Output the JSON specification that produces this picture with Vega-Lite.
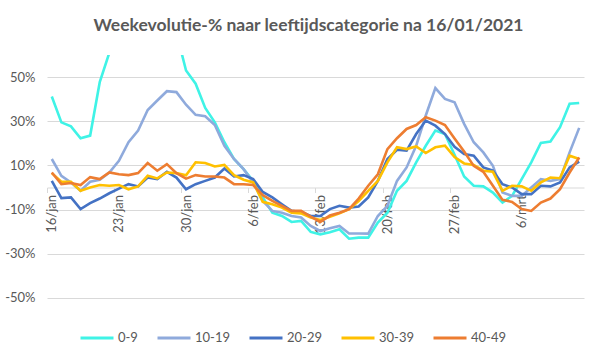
{
  "$schema": "https://vega.github.io/schema/vega-lite/v6.json",
  "width": 537,
  "height": 265,
  "autosize": {"type": "none"},
  "padding": {"left": 47, "top": 55, "right": 15, "bottom": 39},
  "background": "white",
  "title": {
    "text": "Weekevolutie-% naar leeftijdscategorie  na 16/01/2021",
    "fontSize": 17.5,
    "fontWeight": "bold",
    "color": "#595959",
    "font": "Lato",
    "frame": "group",
    "anchor": "middle",
    "dx": -7,
    "offset": 21
  },
  "data": {
    "values": [
      {"d": "2021-01-16", "0-9": 41.2, "10-19": 12.9, "20-29": 3, "30-39": 6.5, "40-49": 6.8},
      {"d": "2021-01-17", "0-9": 29.5, "10-19": 5.3, "20-29": -4.8, "30-39": 2.6, "40-49": 1.5},
      {"d": "2021-01-18", "0-9": 27.7, "10-19": 2.3, "20-29": -4.5, "30-39": 2.6, "40-49": 2},
      {"d": "2021-01-19", "0-9": 22.3, "10-19": -1.5, "20-29": -9.8, "30-39": -1.5, "40-49": 1.1},
      {"d": "2021-01-20", "0-9": 23.5, "10-19": 2.6, "20-29": -7.1, "30-39": 0, "40-49": 4.7},
      {"d": "2021-01-21", "0-9": 47.7, "10-19": 3.5, "20-29": -5, "30-39": 1.1, "40-49": 3.8},
      {"d": "2021-01-22", "0-9": 61, "10-19": 6.8, "20-29": -2.6, "30-39": 0.8, "40-49": 6.8},
      {"d": "2021-01-23", "0-9": 68, "10-19": 12.1, "20-29": -0.5, "30-39": 1.1, "40-49": 6},
      {"d": "2021-01-24", "0-9": 74, "10-19": 20.5, "20-29": 1.5, "30-39": -0.8, "40-49": 5.6},
      {"d": "2021-01-25", "0-9": 78, "10-19": 25.8, "20-29": 0.5, "30-39": 0.5, "40-49": 6.5},
      {"d": "2021-01-26", "0-9": 80, "10-19": 35.1, "20-29": 4.5, "30-39": 5.3, "40-49": 11.1},
      {"d": "2021-01-27", "0-9": 79, "10-19": 39.4, "20-29": 3.8, "30-39": 4.1, "40-49": 7.6},
      {"d": "2021-01-28", "0-9": 76, "10-19": 43.6, "20-29": 7.1, "30-39": 6.8, "40-49": 10.6},
      {"d": "2021-01-29", "0-9": 70, "10-19": 43.2, "20-29": 4.5, "30-39": 6.5, "40-49": 6.5},
      {"d": "2021-01-30", "0-9": 53, "10-19": 37.5, "20-29": -0.8, "30-39": 5.5, "40-49": 4},
      {"d": "2021-01-31", "0-9": 47, "10-19": 32.9, "20-29": 1.5, "30-39": 11.4, "40-49": 5.6},
      {"d": "2021-02-01", "0-9": 36, "10-19": 32.3, "20-29": 3, "30-39": 11.1, "40-49": 5},
      {"d": "2021-02-02", "0-9": 29.5, "10-19": 28.3, "20-29": 4.5, "30-39": 9.5, "40-49": 5},
      {"d": "2021-02-03", "0-9": 20.5, "10-19": 18.9, "20-29": 8.6, "30-39": 10.2, "40-49": 4.5},
      {"d": "2021-02-04", "0-9": 12.9, "10-19": 12.9, "20-29": 5, "30-39": 5.6, "40-49": 1.5},
      {"d": "2021-02-05", "0-9": 8.3, "10-19": 8.3, "20-29": 5.6, "30-39": 3.5, "40-49": 1.5},
      {"d": "2021-02-06", "0-9": 3, "10-19": 2.3, "20-29": 3.8, "30-39": 2.3, "40-49": 1.1},
      {"d": "2021-02-07", "0-9": -4.5, "10-19": -6.1, "20-29": -2, "30-39": -6.5, "40-49": -3.5},
      {"d": "2021-02-08", "0-9": -11.4, "10-19": -10.6, "20-29": -4.5, "30-39": -7.6, "40-49": -6.1},
      {"d": "2021-02-09", "0-9": -12.9, "10-19": -11.4, "20-29": -7.6, "30-39": -9.1, "40-49": -8.3},
      {"d": "2021-02-10", "0-9": -15.6, "10-19": -12.9, "20-29": -10.6, "30-39": -11.4, "40-49": -10.6},
      {"d": "2021-02-11", "0-9": -15.1, "10-19": -13.6, "20-29": -11.1, "30-39": -11.7, "40-49": -10.6},
      {"d": "2021-02-12", "0-9": -20.1, "10-19": -17.4, "20-29": -12.9, "30-39": -13.6, "40-49": -13.2},
      {"d": "2021-02-13", "0-9": -21.2, "10-19": -19.7, "20-29": -12.9, "30-39": -14.7, "40-49": -15.6},
      {"d": "2021-02-14", "0-9": -20.3, "10-19": -18.5, "20-29": -9.8, "30-39": -13.2, "40-49": -12.7},
      {"d": "2021-02-15", "0-9": -18.9, "10-19": -17.4, "20-29": -8.3, "30-39": -11.7, "40-49": -11.4},
      {"d": "2021-02-16", "0-9": -23.2, "10-19": -20.8, "20-29": -9.1, "30-39": -9.8, "40-49": -9.8},
      {"d": "2021-02-17", "0-9": -22.7, "10-19": -20.8, "20-29": -8.6, "30-39": -6.1, "40-49": -5},
      {"d": "2021-02-18", "0-9": -22.7, "10-19": -20.9, "20-29": -4.5, "30-39": -1.5, "40-49": 0.8},
      {"d": "2021-02-19", "0-9": -15.9, "10-19": -12.9, "20-29": 3, "30-39": 3, "40-49": 6},
      {"d": "2021-02-20", "0-9": -11.4, "10-19": -8.3, "20-29": 12.9, "30-39": 11.4, "40-49": 17.4},
      {"d": "2021-02-21", "0-9": -1.5, "10-19": 3, "20-29": 17.1, "30-39": 18.2, "40-49": 22.3},
      {"d": "2021-02-22", "0-9": 3, "10-19": 9.1, "20-29": 16.7, "30-39": 17.4, "40-49": 26.5},
      {"d": "2021-02-23", "0-9": 11.4, "10-19": 18.9, "20-29": 24.2, "30-39": 18.6, "40-49": 28.3},
      {"d": "2021-02-24", "0-9": 18.9, "10-19": 32.6, "20-29": 30.3, "30-39": 15.6, "40-49": 31.8},
      {"d": "2021-02-25", "0-9": 25.8, "10-19": 45, "20-29": 28, "30-39": 18.2, "40-49": 30.3},
      {"d": "2021-02-26", "0-9": 24.2, "10-19": 40.1, "20-29": 24.2, "30-39": 18.9, "40-49": 28.3},
      {"d": "2021-02-27", "0-9": 14.8, "10-19": 38.6, "20-29": 18.4, "30-39": 13.8, "40-49": 22.2},
      {"d": "2021-02-28", "0-9": 5, "10-19": 28.8, "20-29": 15.2, "30-39": 10.9, "40-49": 16.3},
      {"d": "2021-03-01", "0-9": 0.8, "10-19": 20.5, "20-29": 14.4, "30-39": 10.2, "40-49": 9.8},
      {"d": "2021-03-02", "0-9": 0.5, "10-19": 15.9, "20-29": 9.1, "30-39": 7.6, "40-49": 7.1},
      {"d": "2021-03-03", "0-9": -2.3, "10-19": 9.8, "20-29": 7.6, "30-39": 7.1, "40-49": 0.8},
      {"d": "2021-03-04", "0-9": -6.8, "10-19": -2.3, "20-29": 1.5, "30-39": -1.5, "40-49": -5.6},
      {"d": "2021-03-05", "0-9": -3.8, "10-19": -3.8, "20-29": 0, "30-39": 0.8, "40-49": -6.5},
      {"d": "2021-03-06", "0-9": 3.8, "10-19": -3.8, "20-29": -3, "30-39": 0.5, "40-49": -9.8},
      {"d": "2021-03-07", "0-9": 11.4, "10-19": 0, "20-29": -3, "30-39": -1.5, "40-49": -10.6},
      {"d": "2021-03-08", "0-9": 20.2, "10-19": 3.8, "20-29": 0.8, "30-39": 2.3, "40-49": -6.8},
      {"d": "2021-03-09", "0-9": 20.8, "10-19": 3, "20-29": 0.5, "30-39": 4.5, "40-49": -5},
      {"d": "2021-03-10", "0-9": 27.3, "10-19": 3.8, "20-29": 2.3, "30-39": 4.2, "40-49": -0.8},
      {"d": "2021-03-11", "0-9": 37.9, "10-19": 15.9, "20-29": 9.1, "30-39": 14.4, "40-49": 6.8},
      {"d": "2021-03-12", "0-9": 38.3, "10-19": 27, "20-29": 11.7, "30-39": 12.9, "40-49": 13.6}
    ],
    "format": {"parse": {"d": "utc:'%Y-%m-%d'"}}
  },
  "transform": [
    {"fold": ["0-9", "10-19", "20-29", "30-39", "40-49"], "as": ["reeks", "waarde"]}
  ],
  "mark": {"type": "line", "strokeWidth": 2.6, "clip": true},
  "encoding": {
    "x": {
      "field": "d",
      "type": "temporal",
      "scale": {
        "type": "utc",
        "domain": [
          {"year": 2021, "month": 1, "date": 15, "hours": 12, "utc": true},
          {"year": 2021, "month": 3, "date": 12, "hours": 12, "utc": true}
        ]
      },
      "axis": {
        "title": null,
        "grid": false,
        "values": [
          {"year": 2021, "month": 1, "date": 16, "utc": true},
          {"year": 2021, "month": 1, "date": 23, "utc": true},
          {"year": 2021, "month": 1, "date": 30, "utc": true},
          {"year": 2021, "month": 2, "date": 6, "utc": true},
          {"year": 2021, "month": 2, "date": 13, "utc": true},
          {"year": 2021, "month": 2, "date": 20, "utc": true},
          {"year": 2021, "month": 2, "date": 27, "utc": true},
          {"year": 2021, "month": 3, "date": 6, "utc": true}
        ],
        "labelExpr": "utcdate(datum.value) + '/' + ['jan','feb','mrt'][utcmonth(datum.value)]",
        "labelAngle": 270,
        "offset": -132.5,
        "domainColor": "#d9d9d9",
        "tickColor": "#d9d9d9",
        "tickSize": 5,
        "tickOffset": -4.8,
        "labelOffset": 4.8,
        "labelPadding": 2,
        "labelFont": "Lato",
        "labelFontSize": 13,
        "labelColor": "#595959"
      }
    },
    "y": {
      "field": "waarde",
      "type": "quantitative",
      "scale": {"domain": [-60, 60], "nice": false, "zero": false},
      "axis": {
        "title": null,
        "values": [-50, -30, -10, 10, 30, 50],
        "labelExpr": "datum.value + '%'",
        "domain": false,
        "ticks": false,
        "grid": true,
        "gridColor": "#d9d9d9",
        "labelPadding": 12,
        "labelFont": "Lato",
        "labelFontSize": 13,
        "labelColor": "#595959"
      }
    },
    "color": {
      "field": "reeks",
      "type": "nominal",
      "scale": {
        "domain": ["0-9", "10-19", "20-29", "30-39", "40-49"],
        "range": ["#3ff3e6", "#8faadc", "#4472c4", "#ffc000", "#ed7d31"]
      },
      "legend": {
        "title": null,
        "orient": "none",
        "direction": "horizontal",
        "legendX": 32,
        "legendY": 265,
        "padding": 0,
        "symbolType": "stroke",
        "symbolSize": 1089,
        "symbolStrokeWidth": 3,
        "columnPadding": 13,
        "labelOffset": 3,
        "labelFont": "Lato",
        "labelFontSize": 13,
        "labelColor": "#595959"
      }
    }
  },
  "config": {"view": {"stroke": null}}
}
